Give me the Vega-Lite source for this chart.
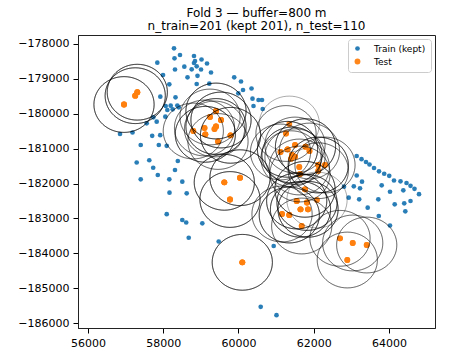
{
  "$schema": "https://vega.github.io/schema/vega-lite/v6.json",
  "width": 357,
  "height": 293,
  "autosize": {"type": "none"},
  "padding": {"left": 78, "top": 35, "right": 18, "bottom": 27},
  "background": "white",
  "title": {
    "text": ["Fold 3 — buffer=800 m", "n_train=201 (kept 201), n_test=110"],
    "font": "DejaVu Sans",
    "fontSize": 12,
    "fontWeight": "normal",
    "color": "black",
    "anchor": "middle",
    "lineHeight": 13,
    "offset": 2
  },
  "config": {
    "view": {"stroke": "#222", "strokeWidth": 1},
    "axis": {
      "labelFont": "DejaVu Sans",
      "labelFontSize": 11,
      "labelColor": "black",
      "tickColor": "black",
      "tickSize": 5,
      "labelPadding": 4,
      "domainColor": "#222",
      "grid": false,
      "title": null
    },
    "legend": {
      "labelFont": "DejaVu Sans",
      "labelFontSize": 9,
      "labelColor": "black"
    }
  },
  "datasets": {
    "pts": [
      {"x": 58286, "y": -178123, "set": "Train (kept)"},
      {"x": 58299, "y": -178410, "set": "Train (kept)"},
      {"x": 58445, "y": -178315, "set": "Train (kept)"},
      {"x": 58817, "y": -178344, "set": "Train (kept)"},
      {"x": 59017, "y": -178444, "set": "Train (kept)"},
      {"x": 58844, "y": -178487, "set": "Train (kept)"},
      {"x": 58817, "y": -178545, "set": "Train (kept)"},
      {"x": 59163, "y": -178559, "set": "Train (kept)"},
      {"x": 57842, "y": -178536, "set": "Train (kept)"},
      {"x": 58560, "y": -178651, "set": "Train (kept)"},
      {"x": 58312, "y": -178731, "set": "Train (kept)"},
      {"x": 58756, "y": -178725, "set": "Train (kept)"},
      {"x": 58889, "y": -178639, "set": "Train (kept)"},
      {"x": 59004, "y": -178731, "set": "Train (kept)"},
      {"x": 59269, "y": -178817, "set": "Train (kept)"},
      {"x": 58645, "y": -178955, "set": "Train (kept)"},
      {"x": 58910, "y": -178912, "set": "Train (kept)"},
      {"x": 57994, "y": -178889, "set": "Train (kept)"},
      {"x": 59224, "y": -179138, "set": "Train (kept)"},
      {"x": 58889, "y": -179147, "set": "Train (kept)"},
      {"x": 58161, "y": -179155, "set": "Train (kept)"},
      {"x": 59886, "y": -178955, "set": "Train (kept)"},
      {"x": 60067, "y": -179075, "set": "Train (kept)"},
      {"x": 60120, "y": -179319, "set": "Train (kept)"},
      {"x": 60346, "y": -179276, "set": "Train (kept)"},
      {"x": 57922, "y": -179511, "set": "Train (kept)"},
      {"x": 58326, "y": -179528, "set": "Train (kept)"},
      {"x": 60372, "y": -179568, "set": "Train (kept)"},
      {"x": 60532, "y": -179606, "set": "Train (kept)"},
      {"x": 60625, "y": -179606, "set": "Train (kept)"},
      {"x": 60399, "y": -179778, "set": "Train (kept)"},
      {"x": 60643, "y": -179864, "set": "Train (kept)"},
      {"x": 58065, "y": -179778, "set": "Train (kept)"},
      {"x": 58198, "y": -179769, "set": "Train (kept)"},
      {"x": 58374, "y": -179763, "set": "Train (kept)"},
      {"x": 58108, "y": -179892, "set": "Train (kept)"},
      {"x": 58251, "y": -179872, "set": "Train (kept)"},
      {"x": 58411, "y": -179815, "set": "Train (kept)"},
      {"x": 57736, "y": -180102, "set": "Train (kept)"},
      {"x": 57560, "y": -180274, "set": "Train (kept)"},
      {"x": 57826, "y": -180228, "set": "Train (kept)"},
      {"x": 58055, "y": -180084, "set": "Train (kept)"},
      {"x": 56851, "y": -180580, "set": "Train (kept)"},
      {"x": 57183, "y": -180537, "set": "Train (kept)"},
      {"x": 57706, "y": -180632, "set": "Train (kept)"},
      {"x": 57919, "y": -180615, "set": "Train (kept)"},
      {"x": 57401, "y": -180896, "set": "Train (kept)"},
      {"x": 57882, "y": -180896, "set": "Train (kept)"},
      {"x": 58092, "y": -180919, "set": "Train (kept)"},
      {"x": 57294, "y": -181397, "set": "Train (kept)"},
      {"x": 57629, "y": -181332, "set": "Train (kept)"},
      {"x": 57733, "y": -181547, "set": "Train (kept)"},
      {"x": 58387, "y": -181354, "set": "Train (kept)"},
      {"x": 57855, "y": -181756, "set": "Train (kept)"},
      {"x": 58312, "y": -181612, "set": "Train (kept)"},
      {"x": 58161, "y": -181879, "set": "Train (kept)"},
      {"x": 57401, "y": -181879, "set": "Train (kept)"},
      {"x": 58506, "y": -181948, "set": "Train (kept)"},
      {"x": 58166, "y": -182263, "set": "Train (kept)"},
      {"x": 58623, "y": -182281, "set": "Train (kept)"},
      {"x": 58092, "y": -182880, "set": "Train (kept)"},
      {"x": 58506, "y": -183046, "set": "Train (kept)"},
      {"x": 58610, "y": -183118, "set": "Train (kept)"},
      {"x": 59038, "y": -183141, "set": "Train (kept)"},
      {"x": 58677, "y": -183554, "set": "Train (kept)"},
      {"x": 59474, "y": -183662, "set": "Train (kept)"},
      {"x": 60936, "y": -183791, "set": "Train (kept)"},
      {"x": 60590, "y": -185535, "set": "Train (kept)"},
      {"x": 61010, "y": -185775, "set": "Train (kept)"},
      {"x": 59995, "y": -179413, "set": "Train (kept)"},
      {"x": 63142, "y": -181211, "set": "Train (kept)"},
      {"x": 63270, "y": -181303, "set": "Train (kept)"},
      {"x": 63389, "y": -181383, "set": "Train (kept)"},
      {"x": 63482, "y": -181455, "set": "Train (kept)"},
      {"x": 63602, "y": -181555, "set": "Train (kept)"},
      {"x": 63735, "y": -181650, "set": "Train (kept)"},
      {"x": 63873, "y": -181719, "set": "Train (kept)"},
      {"x": 64006, "y": -181779, "set": "Train (kept)"},
      {"x": 64133, "y": -181914, "set": "Train (kept)"},
      {"x": 64306, "y": -181936, "set": "Train (kept)"},
      {"x": 64466, "y": -181985, "set": "Train (kept)"},
      {"x": 64572, "y": -182066, "set": "Train (kept)"},
      {"x": 64678, "y": -182152, "set": "Train (kept)"},
      {"x": 64798, "y": -182306, "set": "Train (kept)"},
      {"x": 63142, "y": -181770, "set": "Train (kept)"},
      {"x": 63283, "y": -181948, "set": "Train (kept)"},
      {"x": 63065, "y": -182080, "set": "Train (kept)"},
      {"x": 63230, "y": -182137, "set": "Train (kept)"},
      {"x": 63806, "y": -182051, "set": "Train (kept)"},
      {"x": 64027, "y": -182235, "set": "Train (kept)"},
      {"x": 64381, "y": -182195, "set": "Train (kept)"},
      {"x": 62929, "y": -182407, "set": "Train (kept)"},
      {"x": 63208, "y": -182453, "set": "Train (kept)"},
      {"x": 63716, "y": -182453, "set": "Train (kept)"},
      {"x": 64152, "y": -182596, "set": "Train (kept)"},
      {"x": 64405, "y": -182567, "set": "Train (kept)"},
      {"x": 64572, "y": -182501, "set": "Train (kept)"},
      {"x": 63434, "y": -182693, "set": "Train (kept)"},
      {"x": 64434, "y": -182797, "set": "Train (kept)"},
      {"x": 63729, "y": -182931, "set": "Train (kept)"},
      {"x": 64027, "y": -183204, "set": "Train (kept)"},
      {"x": 62804, "y": -182091, "set": "Train (kept)"},

      {"x": 57310, "y": -179382, "set": "Test"},
      {"x": 57310, "y": -179382, "set": "Test"},
      {"x": 57310, "y": -179382, "set": "Test"},
      {"x": 57255, "y": -179482, "set": "Test"},
      {"x": 57255, "y": -179482, "set": "Test"},
      {"x": 57255, "y": -179482, "set": "Test"},
      {"x": 56957, "y": -179735, "set": "Test"},
      {"x": 56957, "y": -179735, "set": "Test"},
      {"x": 56957, "y": -179735, "set": "Test"},
      {"x": 59402, "y": -179921, "set": "Test"},
      {"x": 59402, "y": -179921, "set": "Test"},
      {"x": 59402, "y": -179921, "set": "Test"},
      {"x": 59243, "y": -180093, "set": "Test"},
      {"x": 59243, "y": -180093, "set": "Test"},
      {"x": 59535, "y": -180179, "set": "Test"},
      {"x": 59535, "y": -180179, "set": "Test"},
      {"x": 59535, "y": -180179, "set": "Test"},
      {"x": 59097, "y": -180408, "set": "Test"},
      {"x": 59097, "y": -180408, "set": "Test"},
      {"x": 59402, "y": -180365, "set": "Test"},
      {"x": 59402, "y": -180365, "set": "Test"},
      {"x": 59402, "y": -180365, "set": "Test"},
      {"x": 59362, "y": -180437, "set": "Test"},
      {"x": 59362, "y": -180437, "set": "Test"},
      {"x": 58799, "y": -180494, "set": "Test"},
      {"x": 58799, "y": -180494, "set": "Test"},
      {"x": 59118, "y": -180589, "set": "Test"},
      {"x": 59118, "y": -180589, "set": "Test"},
      {"x": 59118, "y": -180589, "set": "Test"},
      {"x": 59788, "y": -180618, "set": "Test"},
      {"x": 59788, "y": -180618, "set": "Test"},
      {"x": 59788, "y": -180618, "set": "Test"},
      {"x": 59455, "y": -180795, "set": "Test"},
      {"x": 59455, "y": -180795, "set": "Test"},
      {"x": 61350, "y": -180294, "set": "Test"},
      {"x": 61263, "y": -180566, "set": "Test"},
      {"x": 61263, "y": -180566, "set": "Test"},
      {"x": 61502, "y": -180896, "set": "Test"},
      {"x": 61502, "y": -180896, "set": "Test"},
      {"x": 61781, "y": -180944, "set": "Test"},
      {"x": 61781, "y": -180944, "set": "Test"},
      {"x": 61781, "y": -180944, "set": "Test"},
      {"x": 61117, "y": -181096, "set": "Test"},
      {"x": 61117, "y": -181096, "set": "Test"},
      {"x": 61303, "y": -181019, "set": "Test"},
      {"x": 61303, "y": -181019, "set": "Test"},
      {"x": 61303, "y": -181019, "set": "Test"},
      {"x": 61887, "y": -181068, "set": "Test"},
      {"x": 61887, "y": -181068, "set": "Test"},
      {"x": 61422, "y": -181182, "set": "Test"},
      {"x": 61422, "y": -181182, "set": "Test"},
      {"x": 61422, "y": -181182, "set": "Test"},
      {"x": 61502, "y": -181231, "set": "Test"},
      {"x": 61502, "y": -181231, "set": "Test"},
      {"x": 61396, "y": -181288, "set": "Test"},
      {"x": 61396, "y": -181288, "set": "Test"},
      {"x": 62121, "y": -181469, "set": "Test"},
      {"x": 62121, "y": -181469, "set": "Test"},
      {"x": 62121, "y": -181469, "set": "Test"},
      {"x": 62299, "y": -181469, "set": "Test"},
      {"x": 62299, "y": -181469, "set": "Test"},
      {"x": 61616, "y": -181526, "set": "Test"},
      {"x": 61616, "y": -181526, "set": "Test"},
      {"x": 62121, "y": -181633, "set": "Test"},
      {"x": 62121, "y": -181633, "set": "Test"},
      {"x": 61635, "y": -181727, "set": "Test"},
      {"x": 61635, "y": -181727, "set": "Test"},
      {"x": 61768, "y": -182166, "set": "Test"},
      {"x": 61768, "y": -182166, "set": "Test"},
      {"x": 61768, "y": -182166, "set": "Test"},
      {"x": 61547, "y": -182501, "set": "Test"},
      {"x": 61547, "y": -182501, "set": "Test"},
      {"x": 61547, "y": -182501, "set": "Test"},
      {"x": 61821, "y": -182544, "set": "Test"},
      {"x": 61821, "y": -182544, "set": "Test"},
      {"x": 61821, "y": -182544, "set": "Test"},
      {"x": 62087, "y": -182473, "set": "Test"},
      {"x": 61648, "y": -182739, "set": "Test"},
      {"x": 61648, "y": -182739, "set": "Test"},
      {"x": 61648, "y": -182739, "set": "Test"},
      {"x": 61848, "y": -182739, "set": "Test"},
      {"x": 61848, "y": -182739, "set": "Test"},
      {"x": 61848, "y": -182739, "set": "Test"},
      {"x": 61157, "y": -182874, "set": "Test"},
      {"x": 61157, "y": -182874, "set": "Test"},
      {"x": 61350, "y": -182903, "set": "Test"},
      {"x": 61350, "y": -182903, "set": "Test"},
      {"x": 61350, "y": -182903, "set": "Test"},
      {"x": 61680, "y": -183218, "set": "Test"},
      {"x": 61680, "y": -183218, "set": "Test"},
      {"x": 59623, "y": -181965, "set": "Test"},
      {"x": 59623, "y": -181965, "set": "Test"},
      {"x": 59623, "y": -181965, "set": "Test"},
      {"x": 60040, "y": -181833, "set": "Test"},
      {"x": 60040, "y": -181833, "set": "Test"},
      {"x": 60040, "y": -181833, "set": "Test"},
      {"x": 59774, "y": -182458, "set": "Test"},
      {"x": 59774, "y": -182458, "set": "Test"},
      {"x": 59774, "y": -182458, "set": "Test"},
      {"x": 60101, "y": -184259, "set": "Test"},
      {"x": 60101, "y": -184259, "set": "Test"},
      {"x": 60101, "y": -184259, "set": "Test"},
      {"x": 62698, "y": -183571, "set": "Test"},
      {"x": 62698, "y": -183571, "set": "Test"},
      {"x": 63036, "y": -183705, "set": "Test"},
      {"x": 63036, "y": -183705, "set": "Test"},
      {"x": 63408, "y": -183763, "set": "Test"},
      {"x": 63408, "y": -183763, "set": "Test"},
      {"x": 62892, "y": -184193, "set": "Test"},
      {"x": 62892, "y": -184193, "set": "Test"}
    ]
  },
  "data": {"name": "pts"},
  "encoding": {
    "x": {
      "field": "x",
      "type": "quantitative",
      "scale": {"domain": [55734, 65223], "nice": false, "zero": false},
      "axis": {"values": [56000, 58000, 60000, 62000, 64000], "format": "d"}
    },
    "y": {
      "field": "y",
      "type": "quantitative",
      "scale": {"domain": [-186142, -177742], "nice": false, "zero": false},
      "axis": {"values": [-186000, -185000, -184000, -183000, -182000, -181000, -180000, -179000, -178000], "format": "d"}
    }
  },
  "layer": [
    {
      "mark": {"type": "point", "filled": true, "opacity": 0.95, "strokeWidth": 0},
      "encoding": {
        "color": {
          "field": "set",
          "type": "nominal",
          "scale": {"domain": ["Train (kept)", "Test"], "range": ["#1f77b4", "#ff7f0e"]},
          "legend": {
            "title": null,
            "orient": "top-right",
            "offset": 4,
            "padding": 5,
            "fillColor": "white",
            "strokeColor": "#cccccc",
            "cornerRadius": 3,
            "rowPadding": 3,
            "symbolStrokeWidth": 0,
            "labelOffset": 12
          }
        },
        "size": {
          "field": "set",
          "type": "nominal",
          "scale": {"domain": ["Train (kept)", "Test"], "range": [22, 34]},
          "legend": {
            "title": null,
            "orient": "top-right",
            "offset": 4,
            "padding": 5,
            "fillColor": "white",
            "strokeColor": "#cccccc",
            "cornerRadius": 3,
            "rowPadding": 3,
            "symbolStrokeWidth": 0,
            "labelOffset": 12
          }
        }
      }
    },
    {
      "transform": [{"filter": "datum.set === 'Test'"}],
      "mark": {
        "type": "point",
        "filled": false,
        "shape": "M -1 0 A 1 0.927 0 1 0 1 0 A 1 0.927 0 1 0 -1 0 Z",
        "size": 3624,
        "stroke": "black",
        "strokeWidth": 1,
        "strokeOpacity": 0.33,
        "opacity": 1
      },
      "encoding": {}
    }
  ]
}
